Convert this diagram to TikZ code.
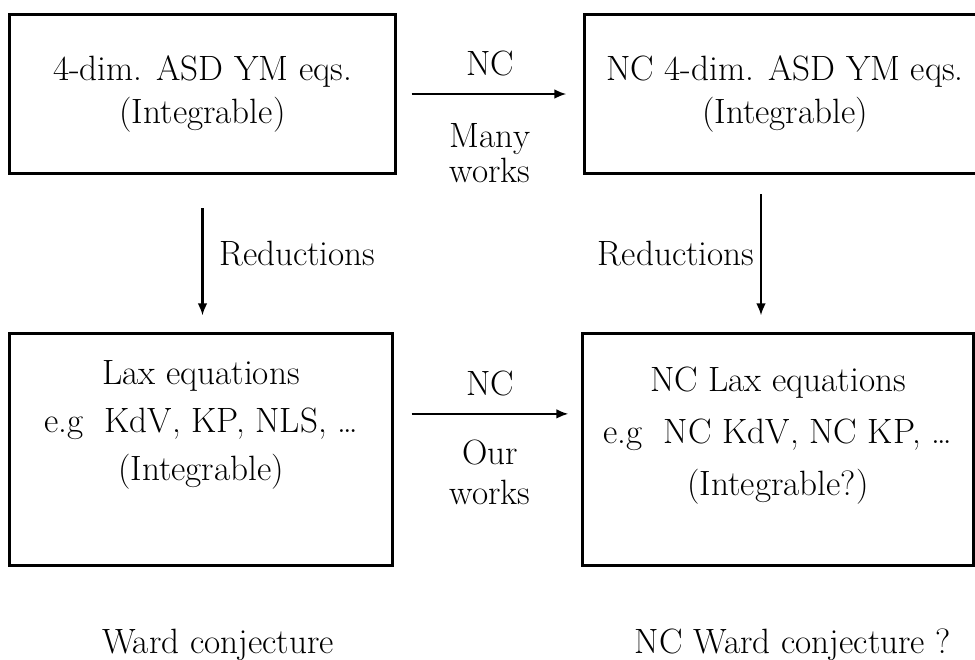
\documentclass[tikz,border=0pt]{standalone}
\usetikzlibrary{positioning,arrows.meta}
\begin{document}
\begin{tikzpicture}
  [x=0.025cm,y=-0.025cm,line cap=butt,
   % Styles
   every node/.style={font=\fontsize{25}{30.6}\selectfont},
   eqbox/.style={draw,line width=2.1pt,align=center,inner sep=0pt},
   flow/.style={-{Latex[length=0.3cm,width=0.24cm]},line width=1.6pt},
   lbl/.style={inner sep=0pt,align=center}]

  \useasboundingbox (0,0) rectangle (975,659);

  % The four boxes
  \node[eqbox,minimum width=9.625cm,minimum height=3.975cm] (asd) at (202.5,94)
    {4-dim. ASD YM eqs.\\(Integrable)};
  \node[eqbox,minimum width=10cm,minimum height=3.975cm] (ncasd) at (785,94)
    {NC 4-dim. ASD YM eqs.\\(Integrable)};
  \node[eqbox,font=\fontsize{25}{34}\selectfont,text depth=41pt,
        minimum width=9.55cm,minimum height=5.775cm] (lax) at (201,449.5)
    {Lax equations\\e.g\ \ KdV, KP, NLS, \dots\\(Integrable)};
  \node[eqbox,font=\fontsize{25}{37}\selectfont,text depth=25.5pt,
        minimum width=9.75cm,minimum height=5.775cm] (nclax) at (778,449.5)
    {NC Lax equations\\e.g\ \ NC KdV, NC KP, \dots\\(Integrable?)};

  % Horizontal arrows
  \draw[flow,shorten <=0.375cm,shorten >=0.425cm] (asd) -- (ncasd)
    node[midway,lbl,above=12pt] {NC}
    node[midway,lbl,below=20pt,font=\fontsize{25}{25}\selectfont] {Many\\works};

  \draw[flow] ([xshift=0.45cm,yshift=0.89cm]lax.east) -- ([xshift=-0.325cm,yshift=0.89cm]nclax.west)
    node[midway,lbl,above=12pt] {NC}
    node[midway,lbl,below=18pt,font=\fontsize{25}{28.4}\selectfont] {Our\\works};

  % Vertical arrows
  \draw[flow,shorten <=0.825cm,shorten >=0.425cm] (asd.south) -- (asd.south |- lax.north)
    node[midway,lbl,right=11pt] {Reductions};
  \draw[flow,shorten <=0.475cm,shorten >=0.425cm] ([xshift=-0.6cm]ncasd.south)
    -- ([xshift=-0.6cm]ncasd.south |- nclax.north)
    node[midway,lbl,left=4pt] {Reductions};

  % Captions
  \node[lbl,anchor=base] (ward) at (218,653) {Ward conjecture};
  \node[lbl,anchor=base] (ncward) at (793,653) {NC Ward conjecture ?};
\end{tikzpicture}
\end{document}
